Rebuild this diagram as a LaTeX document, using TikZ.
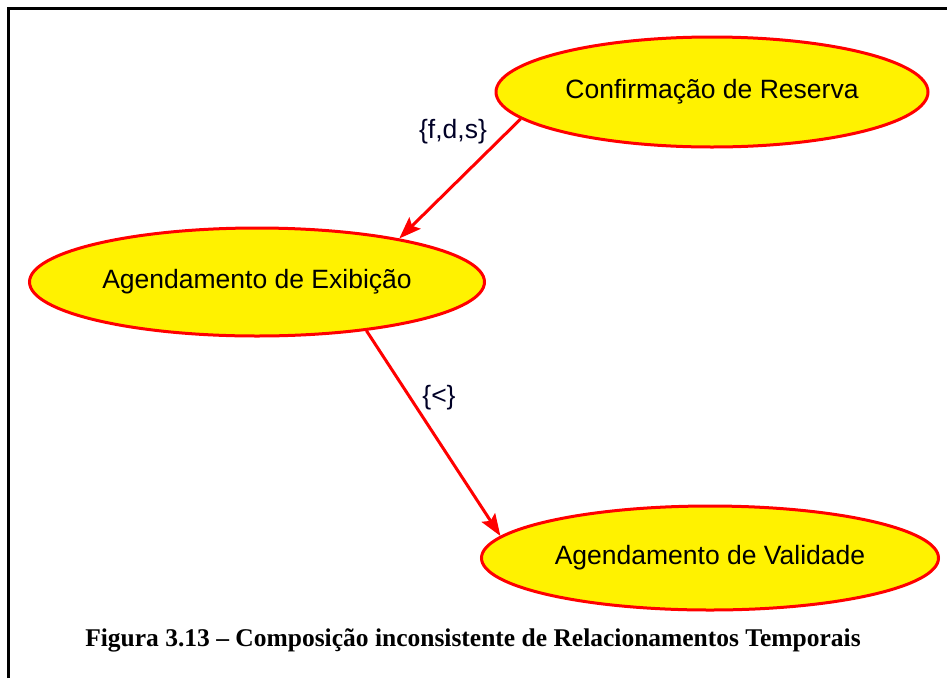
\documentclass[tikz,border=0pt]{standalone}
\usepackage{fontspec}
\setmainfont{Liberation Serif}
\newfontfamily\arialf{Liberation Sans}
\usetikzlibrary{shapes.geometric,arrows.meta}
\begin{document}
\begin{tikzpicture}[x=1pt,y=-1pt,
  ev/.style={ellipse, draw=red, fill=yellow, line width=3pt, inner sep=0pt,
    font=\arialf\fontsize{26.5}{30}\selectfont},
  rel/.style={draw=red, line width=3pt, -{Stealth[length=22pt,width=16pt,inset=4pt]}},
  lab/.style={font=\arialf\fontsize{26.5}{30}\selectfont, text=black!85!blue},
  frame/.style={draw=black, line width=2.2pt}]
\useasboundingbox (0,0) rectangle (947,678);
\draw[frame] (8.5,678) -- (8.5,8.5) -- (947,8.5);
\node[ev, minimum width=432pt, minimum height=110pt] (conf) at (712,92) {Confirmação de Reserva};
\node[ev, minimum width=455pt, minimum height=108pt] (exib) at (257,282) {Agendamento de Exibição};
\node[ev, minimum width=457pt, minimum height=104pt] (valid) at (710,558) {Agendamento de Validade};
\draw[rel] (conf.188) -- (exib.17);
\draw[rel] (exib.-24) -- (valid.174);
\node[lab] (l1) at (453,132) {\{f,d,s\}};
\node[lab] (l2) at (439,398) {\{<\}};
\node[font=\bfseries\fontsize{25.5}{28}\selectfont] (cap) at (473,640)
  {Figura 3.13 – Composição inconsistente de Relacionamentos Temporais};
\end{tikzpicture}
\end{document}
